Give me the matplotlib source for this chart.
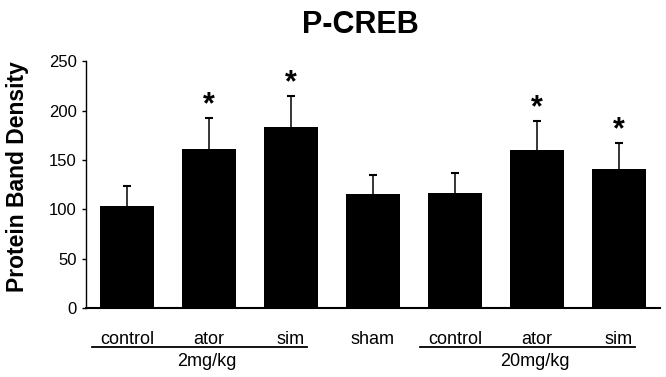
import matplotlib.pyplot as plt

plt.rcParams['font.family'] = ['Liberation Sans', 'DejaVu Sans']

groups = ['control', 'ator', 'sim', 'sham', 'control', 'ator', 'sim']
means = [103, 161, 183, 116, 117, 160, 141]
errors = [21, 31, 32, 19, 20, 29, 26]
significant = [False, True, True, False, False, True, True]
doses = ['2mg/kg', '20mg/kg']

fig = plt.figure(figsize=(6.66, 3.77), dpi=100)
ax = fig.add_axes([0.129, 0.182, 0.862, 0.656])

x = list(range(len(groups)))
tops = [m + e for m, e in zip(means, errors)]
ax.vlines(x, means, tops, color='black', lw=1.1, zorder=1)
ax.plot(x, tops, ls='none', marker='_', ms=5.5, mew=1.5, color='black', zorder=1)
ax.bar(x, means, width=0.65, color='black', zorder=2)

for xi, t, s in zip(x, tops, significant):
    if s:
        ax.text(xi, t + 5, '*', ha='center', va='baseline',
                fontsize=22, fontweight='bold')

ax.set_xlim(-0.5, 6.5)
ax.set_ylim(0, 250)
ax.set_yticks(range(0, 251, 50))
ax.tick_params(axis='y', length=3, width=1, pad=3.5, labelsize=12)
ax.tick_params(axis='x', length=0, pad=16, labelsize=13)
ax.set_xticks(x)
ax.set_xticklabels(groups)
for sp in ['top', 'right']:
    ax.spines[sp].set_visible(False)
ax.spines['left'].set_linewidth(1.0)
ax.spines['bottom'].set_linewidth(1.5)

# group underlines and dose labels
trans = ax.get_xaxis_transform()
for start, stop, lab in [(0, 2, doses[0]), (4, 6, doses[1])]:
    ax.plot([start - 0.43, stop + 0.19], [-0.155, -0.155], color='black',
            lw=1.3, transform=trans, clip_on=False)
    ax.text((start + stop) / 2 - 0.03, -0.18, lab, transform=trans,
            ha='center', va='top', fontsize=13)

fig.text(360 / 666, 0.935, 'P-CREB', ha='center', va='center',
         fontsize=22, fontweight='bold')
fig.text(18 / 666, 0.532, 'Protein Band Density', rotation=90,
         ha='center', va='center', fontsize=16.5, fontweight='bold')

fig.savefig('out.png', dpi=100)
